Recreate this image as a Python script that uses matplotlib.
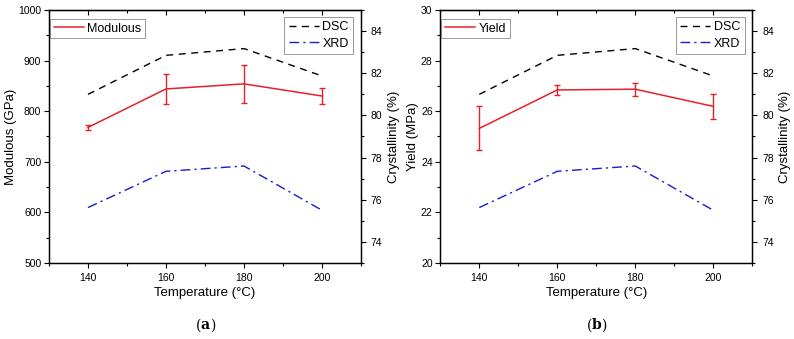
import matplotlib
matplotlib.use("Agg")
import matplotlib.pyplot as plt
from matplotlib.ticker import MultipleLocator

plt.rcParams["font.family"] = ["Liberation Sans", "DejaVu Sans"]

# datos
temperatura = [140, 160, 180, 200]
modulo = [768, 844, 854, 830]
modulo_err = [5, 30, 37, 16]
fluencia = [25.32, 26.84, 26.87, 26.19]
fluencia_err = [0.87, 0.19, 0.25, 0.48]
dsc = [81.0, 82.85, 83.17, 81.87]
xrd = [75.63, 77.35, 77.6, 75.5]

ROJO = "#e8202a"
AZUL = "#1a1ad0"


def panel(fig, caja, valores, errores, etiqueta, nombre, ylim, paso, letra):
    ax = fig.add_axes(caja)
    ax.errorbar(temperatura, valores, yerr=errores, color=ROJO, lw=0,
                elinewidth=1.0, capsize=2.5, capthick=1.0)
    ax.plot(temperatura, valores, color=ROJO, lw=1.1, label=nombre)
    ax.set_xlim(130, 210)
    ax.set_ylim(*ylim)
    ax.xaxis.set_minor_locator(MultipleLocator(10))
    ax.set_xticks([140, 160, 180, 200])
    ax.yaxis.set_major_locator(MultipleLocator(paso))
    ax.yaxis.set_minor_locator(MultipleLocator(paso / 2))
    ax.tick_params(which="both", direction="out", labelsize=7.5, width=0.8)
    ax.tick_params(which="major", length=3.5)
    ax.tick_params(which="minor", length=2)
    ax.tick_params(axis="y", pad=2)
    ax.set_xlabel("Temperature (°C)", fontsize=9.5, labelpad=3)
    ax.set_ylabel(etiqueta, fontsize=9.5, labelpad=1)

    # eje superior con marcas hacia dentro
    arriba = ax.secondary_xaxis("top")
    arriba.xaxis.set_major_locator(MultipleLocator(20))
    arriba.xaxis.set_minor_locator(MultipleLocator(10))
    arriba.tick_params(which="both", direction="in", labeltop=False, width=0.8)
    arriba.tick_params(which="major", length=3.5)
    arriba.tick_params(which="minor", length=2)

    ax2 = ax.twinx()
    ax2.plot(temperatura, dsc, color="black", lw=1.0, ls=(0, (5, 4)), label="DSC")
    ax2.plot(temperatura, xrd, color=AZUL, lw=1.0, ls=(0, (7, 3, 1.5, 3)), label="XRD")
    ax2.set_ylim(73, 85)
    ax2.yaxis.set_minor_locator(MultipleLocator(1))
    ax2.set_yticks([74, 76, 78, 80, 82, 84])
    ax2.tick_params(which="both", direction="out", labelsize=7.5, width=0.8)
    ax2.tick_params(which="major", length=3.5)
    ax2.tick_params(which="minor", length=2)
    ax2.set_ylabel("Crystallinity (%)", fontsize=9.5, labelpad=4)

    for a in (ax, ax2):
        for s in a.spines.values():
            s.set_linewidth(0.9)

    leg1 = ax.legend(loc="upper left", bbox_to_anchor=(0.003, 0.965), fontsize=9,
                     frameon=True, fancybox=False, edgecolor="#808080",
                     borderaxespad=0, borderpad=0.3, handlelength=2.4,
                     handletextpad=0.3)
    leg1.get_frame().set_linewidth(0.7)
    leg2 = ax2.legend(loc="upper right", bbox_to_anchor=(0.975, 0.972), fontsize=9,
                      frameon=True, fancybox=False, edgecolor="#808080",
                      borderaxespad=0, borderpad=0.35, handlelength=2.4,
                      handletextpad=0.3, labelspacing=0.35)
    leg2.get_frame().set_linewidth(0.7)

    xc = caja[0] + caja[2] / 2
    fig.text(xc - 0.005, 0.04, "(", fontsize=10, family="DejaVu Serif", ha="right", va="center")
    fig.text(xc, 0.04, letra, fontsize=10, family="DejaVu Serif", weight="bold", ha="center", va="center")
    fig.text(xc + 0.006, 0.04, ")", fontsize=10, family="DejaVu Serif", ha="left", va="center")


fig = plt.figure(figsize=(7.94, 3.39), dpi=100)
panel(fig, [0.0617, 0.2242, 0.393, 0.7463], modulo, modulo_err,
      "Modulous (GPa)", "Modulous", (500, 1000), 100, "a")
panel(fig, [0.5545, 0.2242, 0.393, 0.7463], fluencia, fluencia_err,
      "Yield (MPa)", "Yield", (20, 30), 2, "b")

fig.savefig("out.png", dpi=100)
